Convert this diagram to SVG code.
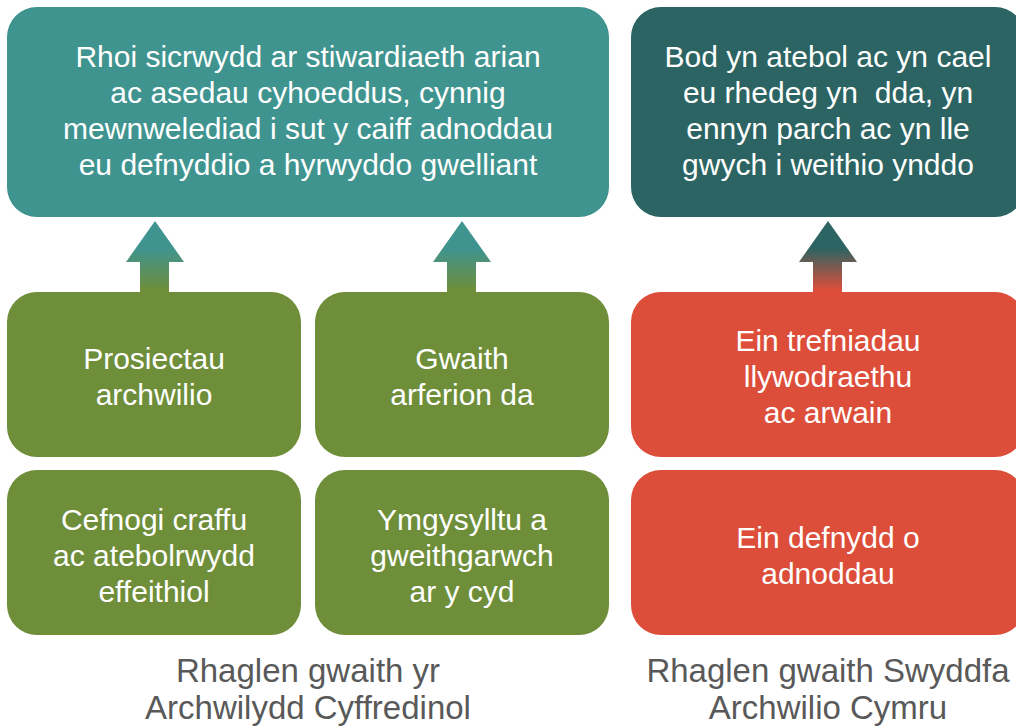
<svg xmlns="http://www.w3.org/2000/svg" width="1016" height="726" viewBox="0 0 1016 726">
<defs>
<linearGradient id="gTeal" x1="0" y1="248" x2="0" y2="290" gradientUnits="userSpaceOnUse">
<stop offset="0" stop-color="#3f9490"/><stop offset="1" stop-color="#6e8e3a"/>
</linearGradient>
<linearGradient id="gDark" x1="0" y1="248" x2="0" y2="290" gradientUnits="userSpaceOnUse">
<stop offset="0" stop-color="#2b6462"/><stop offset="1" stop-color="#dc4e3a"/>
</linearGradient>
<style>
text{font-family:"Liberation Sans",Arial,sans-serif;font-size:30px;text-anchor:middle}
.w{fill:#ffffff}
.cap{fill:#595959;font-size:33px}
.teal{fill:#3f9490}.dark{fill:#2b6462}.green{fill:#6e8e3a}.red{fill:#dc4e3a}
</style>
</defs>
<rect width="1016" height="726" fill="#ffffff"/>
<g id="connectors">
<path d="M155 221 L184 262 L169 262 L169 293 L140 293 L140 262 L126 262 Z" fill="url(#gTeal)"/>
<path d="M462 221 L491 262 L476 262 L476 293 L447 293 L447 262 L433 262 Z" fill="url(#gTeal)"/>
<path d="M828 221 L857 262 L842 262 L842 293 L813 293 L813 262 L799 262 Z" fill="url(#gDark)"/>
</g>
<g id="goal-left">
<rect class="teal" x="7" y="7" width="602" height="210" rx="30"/>
<text class="w" x="308" y="67">Rhoi sicrwydd ar stiwardiaeth arian</text>
<text class="w" x="308" y="103">ac asedau cyhoeddus, cynnig</text>
<text class="w" x="308" y="139">mewnwelediad i sut y caiff adnoddau</text>
<text class="w" x="308" y="175">eu defnyddio a hyrwyddo gwelliant</text>
</g>
<g id="goal-right">
<rect class="dark" x="631" y="7" width="394" height="210" rx="30"/>
<text class="w" x="828" y="67">Bod yn atebol ac yn cael</text>
<text class="w" x="828" y="103" xml:space="preserve">eu rhedeg yn  dda, yn</text>
<text class="w" x="828" y="139">ennyn parch ac yn lle</text>
<text class="w" x="828" y="175">gwych i weithio ynddo</text>
</g>
<g id="prosiectau">
<rect class="green" x="7" y="292" width="294" height="165" rx="30"/>
<text class="w" x="154" y="369">Prosiectau</text>
<text class="w" x="154" y="405">archwilio</text>
</g>
<g id="gwaith">
<rect class="green" x="315" y="292" width="294" height="165" rx="30"/>
<text class="w" x="462" y="369">Gwaith</text>
<text class="w" x="462" y="405">arferion da</text>
</g>
<g id="trefniadau">
<rect class="red" x="631" y="292" width="394" height="165" rx="30"/>
<text class="w" x="828" y="351">Ein trefniadau</text>
<text class="w" x="828" y="387">llywodraethu</text>
<text class="w" x="828" y="423">ac arwain</text>
</g>
<g id="cefnogi">
<rect class="green" x="7" y="470" width="294" height="165" rx="30"/>
<text class="w" x="154" y="530">Cefnogi craffu</text>
<text class="w" x="154" y="566">ac atebolrwydd</text>
<text class="w" x="154" y="602">effeithiol</text>
</g>
<g id="ymgysylltu">
<rect class="green" x="315" y="470" width="294" height="165" rx="30"/>
<text class="w" x="462" y="530">Ymgysylltu a</text>
<text class="w" x="462" y="566">gweithgarwch</text>
<text class="w" x="462" y="602">ar y cyd</text>
</g>
<g id="defnydd">
<rect class="red" x="631" y="470" width="394" height="165" rx="30"/>
<text class="w" x="828" y="548">Ein defnydd o</text>
<text class="w" x="828" y="584">adnoddau</text>
</g>
<g id="caption-left">
<text class="cap" x="308" y="682">Rhaglen gwaith yr</text>
<text class="cap" x="308" y="719">Archwilydd Cyffredinol</text>
</g>
<g id="caption-right">
<text class="cap" x="828" y="682">Rhaglen gwaith Swyddfa</text>
<text class="cap" x="828" y="719">Archwilio Cymru</text>
</g>
</svg>
